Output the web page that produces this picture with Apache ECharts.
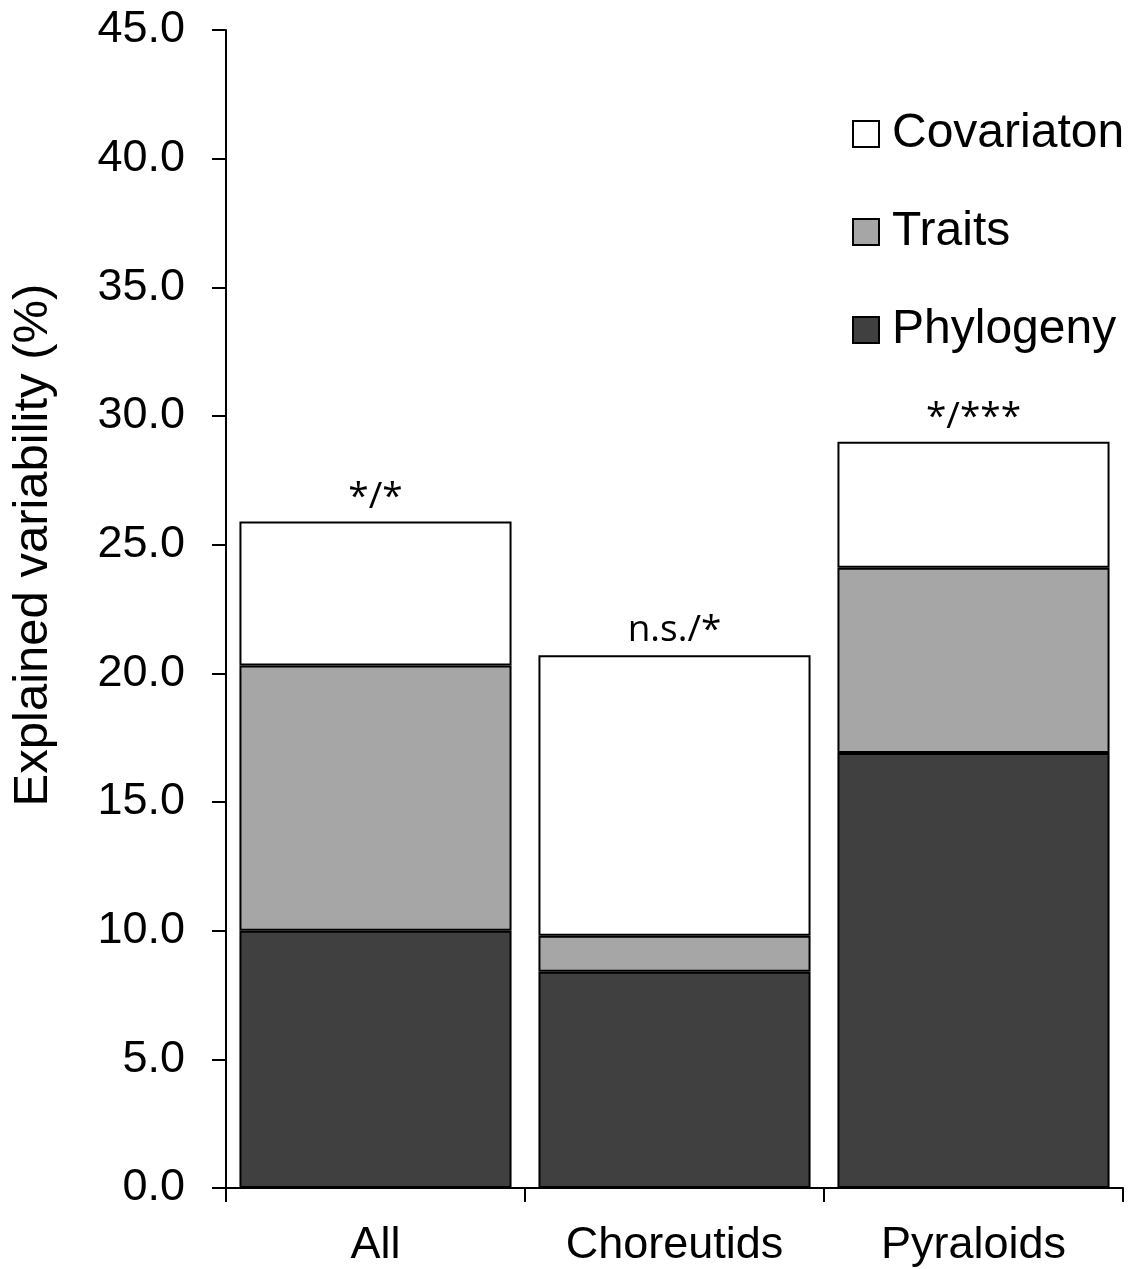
<!DOCTYPE html>
<html>
<head>
<meta charset="utf-8">
<script src="https://cdn.jsdelivr.net/npm/echarts@6/dist/echarts.min.js"></script>
<style>
  html, body { margin: 0; padding: 0; background: #fff; }
  #chart { width: 1137px; height: 1269px; }
</style>
</head>
<body>
<div id="chart"></div>
<script>
// 数据
var categories = ['All', 'Choreutids', 'Pyraloids'];
var phylogeny = [10.0, 8.4, 16.9];
var traits = [10.3, 1.4, 7.2];
var covariation = [5.6, 10.9, 4.9];
var signif = ['*/*', 'n.s./*', '*/***'];
var yTicks = { min: 0, max: 45, interval: 5 };

var font = 'Liberation Sans, Arial, sans-serif';
var chart = echarts.init(document.getElementById('chart'));

function barSeries(name, data, color) {
  return {
    name: name,
    type: 'bar',
    stack: 'total',
    data: data,
    barCategoryGap: '9%',
    itemStyle: { color: color, borderColor: '#000', borderWidth: 2 }
  };
}

var covSeries = barSeries('Covariaton', covariation, '#ffffff');
// 显著性标记
covSeries.label = {
  show: true,
  position: 'top',
  distance: 6,
  formatter: function (p) { return signif[p.dataIndex]; },
  fontFamily: 'Open Sans, Noto Sans, sans-serif',
  fontSize: 37,
  color: '#000'
};

chart.setOption({
  animation: false,
  grid: { left: 226, right: 14, top: 30, bottom: 81, outerBoundsMode: 'none', containLabel: false },
  legend: {
    orient: 'vertical',
    left: 852,
    top: 110,
    padding: 0,
    itemWidth: 26,
    itemHeight: 26,
    itemGap: 50,
    icon: 'rect',
    data: ['Covariaton', 'Traits', 'Phylogeny'],
    itemStyle: { borderColor: '#000', borderWidth: 2 },
    textStyle: { fontFamily: font, fontSize: 48, color: '#000', lineHeight: 48, padding: [0, 0, 0, 8] }
  },
  xAxis: {
    type: 'category',
    data: categories,
    axisLine: { lineStyle: { color: '#000', width: 2 } },
    axisTick: { show: true, length: 14, lineStyle: { color: '#000', width: 2 } },
    axisLabel: { margin: 35, fontFamily: font, fontSize: 45, color: '#000' }
  },
  yAxis: {
    type: 'value',
    min: yTicks.min,
    max: yTicks.max,
    interval: yTicks.interval,
    name: 'Explained variability (%)',
    nameLocation: 'middle',
    nameGap: 168,
    nameTextStyle: { fontFamily: font, fontSize: 49, color: '#000', padding: [0, 0, 0, 128] },
    splitLine: { show: false },
    axisLine: { show: true, lineStyle: { color: '#000', width: 2 } },
    axisTick: { show: true, length: 14, lineStyle: { color: '#000', width: 2 } },
    axisLabel: {
      margin: 41,
      fontFamily: font,
      fontSize: 45,
      color: '#000',
      formatter: function (v) { return v.toFixed(1); }
    }
  },
  series: [
    barSeries('Phylogeny', phylogeny, '#404040'),
    barSeries('Traits', traits, '#a6a6a6'),
    covSeries
  ]
});
</script>
</body>
</html>
